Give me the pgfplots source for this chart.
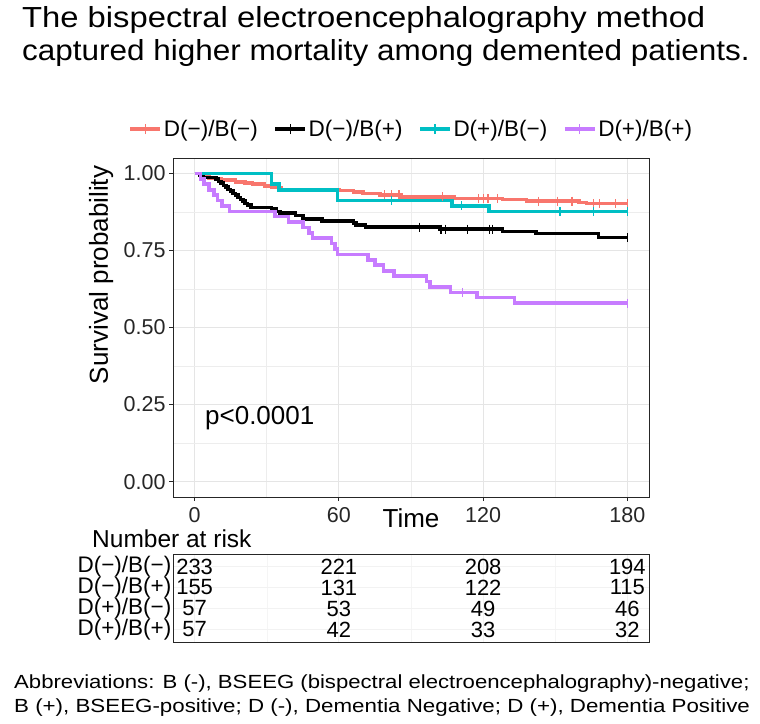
\documentclass[border=0pt]{standalone}
\usepackage{pgfplots}
\pgfplotsset{compat=1.18}
\usepackage{graphicx}
\usepackage{fontspec}
\setmainfont{Liberation Sans}
\definecolor{cR}{HTML}{F8766D}
\definecolor{cC}{HTML}{00BFC4}
\definecolor{cP}{HTML}{C77CFF}
\newcommand\fsz[1]{\fontsize{#1}{#1}\selectfont}
\begin{document}
\begin{tikzpicture}
\path[use as bounding box] (0,0) rectangle (760pt,-723pt);
\node[anchor=base west, inner sep=0] at (22pt,-27pt) {\scalebox{1.13}[1]{\fsz{29}The bispectral electroencephalography method}};
\node[anchor=base west, inner sep=0] at (22pt,-60pt) {\scalebox{1.085}[1]{\fsz{29}captured higher mortality among demented patients.}};

\begin{axis}[
 at={(173pt,-497pt)}, anchor=south west, scale only axis, width=476pt, height=339pt,
 xmin=-9, xmax=189, ymin=-0.05, ymax=1.05,
 xtick={0,60,120,180}, xticklabels={0,60,120,180},
 ytick={0,0.25,0.5,0.75,1}, yticklabels={0.00,0.25,0.50,0.75,1.00},
 minor xtick={30,90,150}, minor ytick={0.125,0.375,0.625,0.875},
 grid=both, major grid style={black!10, line width=1.1pt}, minor grid style={black!7, line width=0.6pt},
 axis line style={black!85, line width=1pt},
 tick align=outside, major tick length=4pt, minor tick length=0pt,
 tick style={black!85, line width=1pt},
 xtick pos=bottom, ytick pos=left,
 tick label style={font=\fsz{21.5}, text=black!85},
 xticklabel style={yshift=-3pt},
 xlabel={Time}, ylabel={Survival probability},
 xlabel style={at={(axis description cs:0.5,-0.0885)}, anchor=base, font=\fsz{26}},
 ylabel style={at={(axis description cs:-0.151,0.655)}, anchor=center, font=\fsz{26}},
 legend columns=4,
 legend style={at={(0.5,1.0855)}, anchor=center, draw=none, fill=none, font=\fsz{22.5},
   /tikz/every even column/.append style={column sep=14pt}, nodes={inner sep=1.5pt}},
 legend image code/.code={\draw[#1,line width=4pt] (0pt,0pt) -- (30pt,0pt); \draw[#1, line width=1.3pt] (15pt,-5pt) -- (15pt,5pt);},
]
\addlegendimage{cR}\addlegendentry{D(−)/B(−)}
\addlegendimage{black}\addlegendentry{D(−)/B(+)}
\addlegendimage{cC}\addlegendentry{D(+)/B(−)}
\addlegendimage{cP}\addlegendentry{D(+)/B(+)}

\addplot[cR, line width=3.6pt, const plot, forget plot] coordinates {(0,1) (3,0.991) (6,0.984) (11,0.979) (17,0.973) (21,0.969) (24,0.965) (29,0.960) (32,0.954) (36,0.948) (60,0.944) (66,0.940) (70,0.935) (77,0.930) (86,0.924) (108,0.919) (128,0.915) (138,0.910) (160,0.906) (163,0.902) (180,0.902)};
\addplot[cR, only marks, mark=|, mark size=4.5pt, mark options={line width=1.2pt}, forget plot] coordinates {(79,0.930) (82,0.930) (85,0.930) (103,0.924) (118,0.919) (120,0.919) (122,0.919) (126,0.919) (143,0.910) (151,0.910) (157,0.910) (166,0.902) (168.5,0.902) (175,0.902) (180,0.902)};

\addplot[black, line width=3.6pt, const plot, forget plot] coordinates {(0,1) (2,0.994) (3.5,0.987) (9,0.981) (10,0.974) (11,0.968) (12,0.961) (13,0.955) (14,0.948) (15,0.942) (16,0.935) (17,0.929) (18,0.922) (19,0.916) (20,0.910) (21,0.903) (22,0.897) (23.5,0.890) (32,0.884) (34,0.877) (35.5,0.871) (42,0.864) (45,0.852) (53,0.845) (66,0.839) (67,0.832) (71,0.826) (102,0.819) (128,0.812) (142,0.805) (168,0.792) (180,0.792)};
\addplot[black, only marks, mark=|, mark size=4.5pt, mark options={line width=1.2pt}, forget plot] coordinates {(93.5,0.826) (102.5,0.819) (104.5,0.819) (113.5,0.819) (122.5,0.819) (124,0.819) (180,0.792)};

\addplot[cC, line width=3.6pt, const plot, forget plot] coordinates {(0,1) (32,0.965) (35,0.947) (59.5,0.912) (107,0.895) (122.5,0.877) (180,0.877)};
\addplot[cC, only marks, mark=|, mark size=4.5pt, mark options={line width=1.2pt}, forget plot] coordinates {(82,0.912) (111,0.895) (152,0.877) (166,0.877) (180,0.877)};

\addplot[cP, line width=3.6pt, const plot, forget plot] coordinates {(0,1) (2.5,0.982) (4,0.965) (6,0.947) (8,0.930) (9.5,0.912) (11.5,0.895) (14.5,0.877) (33.5,0.860) (39,0.842) (45,0.825) (47.5,0.807) (49,0.790) (57,0.772) (58.5,0.754) (59.5,0.737) (72,0.719) (75,0.702) (78.5,0.684) (83,0.667) (96.5,0.649) (98,0.632) (106.5,0.614) (117.5,0.597) (133,0.579) (180,0.579)};
\addplot[cP, only marks, mark=|, mark size=4.5pt, mark options={line width=1.2pt}, forget plot] coordinates {(111.5,0.614) (180,0.579)};

\node[anchor=base west, inner sep=0, font=\fsz{26}] at (axis cs:4.3,0.184) {p<0.0001};
\end{axis}

\node[anchor=base west, inner sep=0, font=\fsz{24.5}] at (92pt,-547pt) {Number at risk};

\begin{axis}[
 at={(173pt,-642pt)}, anchor=south west, scale only axis, width=476pt, height=88pt,
 xmin=-9, xmax=189, ymin=0.4, ymax=4.6,
 xtick={0,60,120,180}, xticklabels={}, minor xtick={30,90,150},
 ytick={1,2,3,4}, yticklabels={D(+)/B(+),D(+)/B(−),D(−)/B(+),D(−)/B(−)},
 grid=both, major grid style={black!5, line width=0.8pt}, minor grid style={black!4, line width=0.5pt},
 axis line style={black!85, line width=1pt},
 major tick length=0pt, minor tick length=0pt,
 yticklabel style={font=\fsz{22.5}, inner sep=1.5pt, text=black},
]
\addplot[draw=none, mark=none, nodes near coords={\pgfplotspointmeta}, point meta=explicit symbolic,
  nodes near coords style={anchor=center, font=\fsz{22}, inner sep=0pt}] coordinates {
 (0,4) [233] (60,4) [221] (120,4) [208] (180,4) [194]
 (0,3) [155] (60,3) [131] (120,3) [122] (180,3) [115]
 (0,2) [57] (60,2) [53] (120,2) [49] (180,2) [46]
 (0,1) [57] (60,1) [42] (120,1) [33] (180,1) [32]
};
\end{axis}

\node[anchor=base west, inner sep=0] at (14pt,-688pt) {\scalebox{1.165}[1]{\fsz{19}Abbreviations: B (-), BSEEG (bispectral electroencephalography)-negative;}};
\node[anchor=base west, inner sep=0] at (14pt,-712pt) {\scalebox{1.175}[1]{\fsz{19}B (+), BSEEG-positive; D (-), Dementia Negative; D (+), Dementia Positive}};
\end{tikzpicture}
\end{document}
